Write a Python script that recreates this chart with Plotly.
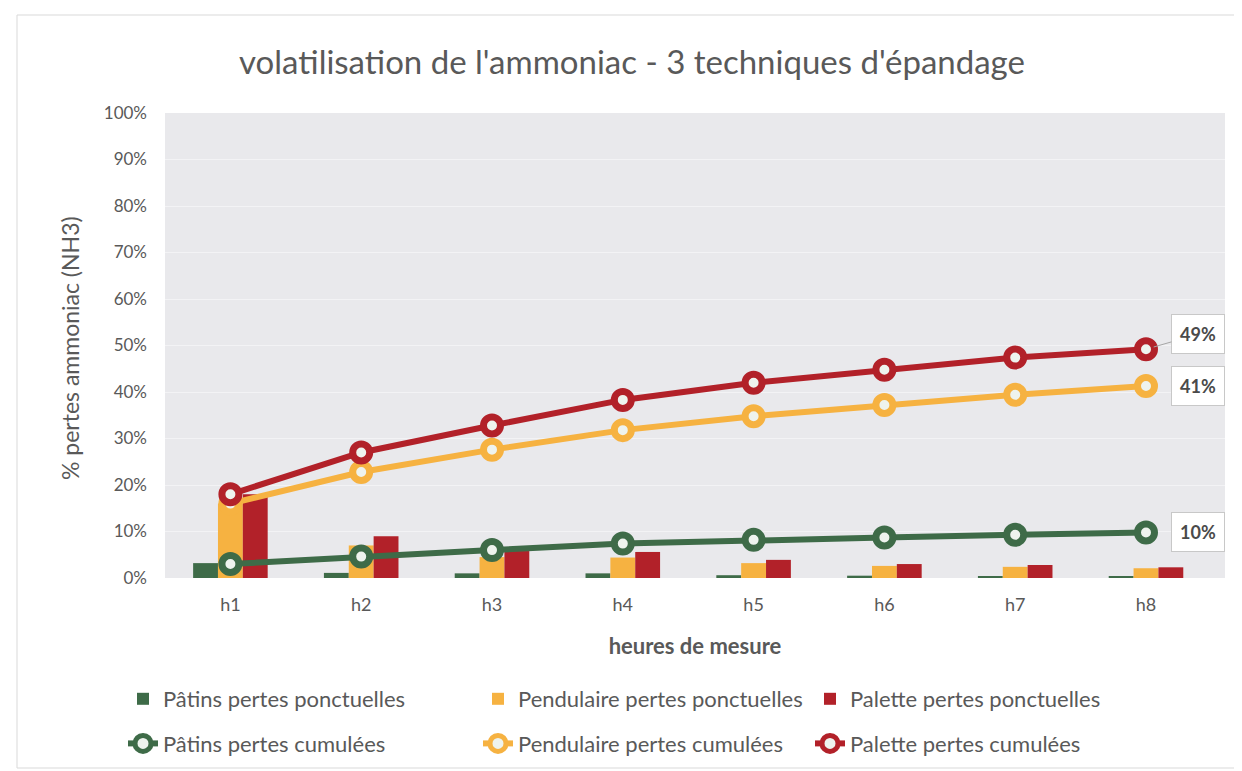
import plotly.graph_objects as go

categories = ["h1", "h2", "h3", "h4", "h5", "h6", "h7", "h8"]

# pertes ponctuelles (%)
patins_ponct = [3.2, 1.1, 1.0, 1.0, 0.6, 0.5, 0.4, 0.3]
pendulaire_ponct = [16.0, 7.0, 4.5, 4.4, 3.2, 2.6, 2.4, 2.1]
palette_ponct = [18.0, 9.0, 5.8, 5.6, 3.9, 3.0, 2.8, 2.3]

# pertes cumulées (%)
patins_cum = [3.0, 4.6, 6.0, 7.4, 8.2, 8.7, 9.3, 9.8]
pendulaire_cum = [16.0, 22.8, 27.6, 31.8, 34.8, 37.2, 39.4, 41.3]
palette_cum = [18.0, 27.0, 32.8, 38.3, 42.0, 44.8, 47.4, 49.2]

tick_vals = [0, 10, 20, 30, 40, 50, 60, 70, 80, 90, 100]
tick_text = ["0%", "10%", "20%", "30%", "40%", "50%", "60%", "70%", "80%", "90%", "100%"]

GREEN = "#3e6b48"
ORANGE = "#f6b241"
RED = "#b22129"
FONT = "Lato"
GRAY = "#595959"

W, H = 1234, 763
L, R, T, B = 157, 17, 105, 193
PW, PH = W - L - R, H - T - B

fig = go.Figure()

legend_ids = ["legend", "legend2", "legend3"]

for i, (name, vals, col) in enumerate([
    ("Pâtins pertes ponctuelles", patins_ponct, GREEN),
    ("Pendulaire pertes ponctuelles", pendulaire_ponct, ORANGE),
    ("Palette pertes ponctuelles", palette_ponct, RED),
]):
    fig.add_trace(go.Bar(x=categories, y=vals, name=name, legend=legend_ids[i],
                         legendgroup=f"b{i}",
                         marker=dict(color=col, line=dict(width=0))))

for i, (name, vals, col) in enumerate([
    ("Pâtins pertes cumulées", patins_cum, GREEN),
    ("Pendulaire pertes cumulées", pendulaire_cum, ORANGE),
    ("Palette pertes cumulées", palette_cum, RED),
]):
    fig.add_trace(go.Scatter(
        x=categories, y=vals, name=name, mode="lines+markers", legend=legend_ids[i],
        legendgroup=f"l{i}",
        line=dict(color=col, width=6),
        marker=dict(symbol="circle", size=17, color="#eef3ee", line=dict(color=col, width=7)),
    ))

# data labels on last point
labels = [(palette_cum, -15, True), (pendulaire_cum, 0, False), (patins_cum, 0, False)]
for vals, ay, arrow in labels:
    fig.add_annotation(
        x=categories[-1], y=vals[-1], text=f"<b>{round(vals[-1]):d}%</b>",
        xref="x", yref="y", showarrow=arrow, ax=52, ay=ay, arrowhead=0,
        arrowcolor="#a6a6a6", arrowwidth=1, standoff=8,
        xshift=0 if arrow else 52,
        font=dict(family=FONT, size=18, color="#4a4a4a"),
        bgcolor="white", bordercolor="#c8c8c8", borderwidth=1, borderpad=8,
    )

def px_x(sx):
    return (sx - 8 - L) / PW

def px_y(sy):
    return (H - B - (sy - 8)) / PH

def cx(sx):
    return (sx - 8) / W

def cy(sy):
    return 1 - (sy - 8) / H

# y-axis title as rotated annotation
fig.add_annotation(
    text="% pertes ammoniac (NH3)", xref="paper", yref="paper",
    x=px_x(70), y=px_y(348), xanchor="center", yanchor="middle",
    textangle=-90, showarrow=False, font=dict(family=FONT, size=23, color=GRAY),
)

legend_common = dict(orientation="v", yanchor="top", xanchor="left",
                      xref="container", yref="container",
                      font=dict(family=FONT, size=22, color=GRAY),
                      tracegroupgap=13, bgcolor="rgba(0,0,0,0)", itemwidth=30)

fig.update_layout(
    width=W, height=H,
    paper_bgcolor="white",
    plot_bgcolor="#e9e9ec",
    barmode="group", bargap=0.43, bargroupgap=0,
    margin=dict(l=L, r=R, t=T, b=B, autoexpand=False),
    title=dict(text="volatilisation de l'ammoniac - 3 techniques d'épandage",
               x=px_x(632), xanchor="center", xref="paper",
               y=cy(62), yanchor="middle",
               font=dict(family=FONT, size=33, color=GRAY)),
    font=dict(family=FONT, color=GRAY),
    xaxis=dict(title=dict(text="<b>heures de mesure</b>", font=dict(size=22, color=GRAY), standoff=24),
               tickfont=dict(size=18, color=GRAY), showgrid=False, showline=False, ticks="",
               ticklabelstandoff=14),
    yaxis=dict(range=[0, 100], tickvals=tick_vals, ticktext=tick_text,
               tickfont=dict(size=17, color=GRAY), gridcolor="#f3f3f5", gridwidth=1,
               zeroline=False, showline=False, ticklabelstandoff=17),
    legend=dict(x=cx(123), y=cy(678), **legend_common),
    legend2=dict(x=cx(478), y=cy(678), **legend_common),
    legend3=dict(x=cx(810), y=cy(678), **legend_common),
    shapes=[dict(type="rect", xref="paper", yref="paper",
                 x0=px_x(17), x1=px_x(1240), y0=px_y(768), y1=px_y(15),
                 line=dict(color="#d9d9d9", width=1), fillcolor="rgba(0,0,0,0)", layer="below")],
)

fig.write_html("out.html")
